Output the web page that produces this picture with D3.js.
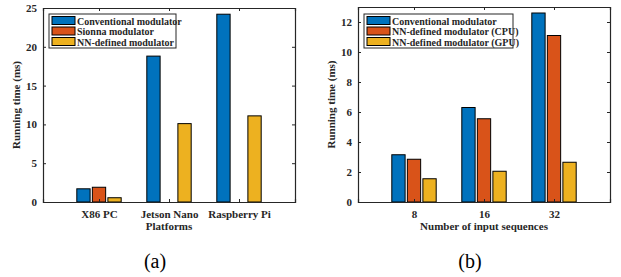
<!DOCTYPE html>
<html lang="en">
  <head>
    <meta charset="UTF-8" />
    <title>Running time</title>
    <script src="https://cdn.jsdelivr.net/npm/d3@7/dist/d3.min.js"></script>
    <style>
      body { margin: 0; background: #fff; }
      text { font-family: "Liberation Serif", "Times New Roman", serif; }
    </style>
  </head>
  <body></body>
  <script>
    // panel (a)
    const platforms = ["X86 PC", "Jetson Nano", "Raspberry Pi"];
    const seriesA = ["Conventional modulator", "Sionna modulator", "NN-defined modulator"];
    const conventionalA = [1.7, 18.8, 24.2];
    const sionnaA = [1.9, 0, 0];
    const nnA = [0.55, 10.1, 11.1];
    const yTicksA = [0, 5, 10, 15, 20, 25];

    // panel (b)
    const sequences = ["8", "16", "32"];
    const seriesB = ["Conventional modulator", "NN-defined modulator (CPU)", "NN-defined modulator (GPU)"];
    const conventionalB = [3.15, 6.3, 12.6];
    const nnCpuB = [2.85, 5.55, 11.1];
    const nnGpuB = [1.55, 2.05, 2.65];
    const yTicksB = [0, 2, 4, 6, 8, 10, 12];

    const colors = ["#0072BD", "#D95319", "#EDB120"];
    const axisColor = "#262626";

    const svg = d3
      .select("body")
      .append("svg")
      .attr("width", 621)
      .attr("height", 277);

    function panel(opt) {
      const g = svg.append("g");
      const x = d3.scaleLinear().domain([0.2, 3.8]).range([opt.left, opt.right]);
      const y = d3.scaleLinear().domain([0, opt.ymax]).range([opt.bottom, opt.top]);
      const offset = 0.222;
      const bw = 0.19;

      // bars
      opt.values.forEach((vals, s) => {
        g.selectAll(null)
          .data(vals)
          .enter()
          .append("rect")
          .attr("x", (d, i) => x(i + 1 + (s - 1) * offset - bw / 2))
          .attr("y", (d) => y(d))
          .attr("width", x(bw) - x(0))
          .attr("height", (d) => y(0) - y(d))
          .attr("fill", colors[s])
          .attr("stroke", d => d > 0 ? "#000" : "none")
          .attr("stroke-width", 1);
      });

      // axes with inward ticks
      const cats = opt.cats.map((c, i) => i + 1);
      const bottom = g.append("g")
        .attr("transform", `translate(0,${opt.bottom})`)
        .call(d3.axisBottom(x).tickValues(cats).tickFormat((d) => opt.cats[d - 1]).tickSize(-3).tickPadding(8));
      const top = g.append("g")
        .attr("transform", `translate(0,${opt.top})`)
        .call(d3.axisTop(x).tickValues(cats).tickFormat("").tickSize(-3));
      const left = g.append("g")
        .attr("transform", `translate(${opt.left},0)`)
        .call(d3.axisLeft(y).tickValues(opt.yticks).tickSize(-3).tickPadding(6));
      const right = g.append("g")
        .attr("transform", `translate(${opt.right},0)`)
        .call(d3.axisRight(y).tickValues(opt.yticks).tickFormat("").tickSize(-3));
      [bottom, top, left, right].forEach((a) => {
        a.select(".domain").attr("stroke", axisColor).attr("stroke-width", 1.2);
        a.selectAll(".tick line").attr("stroke", axisColor);
        a.selectAll("text")
          .attr("fill", axisColor)
          .style("font-family", '"Liberation Serif", serif')
          .style("font-size", "11px")
          .style("font-weight", "bold");
      });

      // axis titles
      g.append("text")
        .attr("transform", `translate(${opt.left - 23},${(opt.top + opt.bottom) / 2}) rotate(-90)`)
        .attr("text-anchor", "middle")
        .attr("fill", axisColor)
        .style("font-size", "11px")
        .style("font-weight", "bold")
        .text("Running time (ms)");
      g.append("text")
        .attr("x", x(2))
        .attr("y", opt.bottom + 28)
        .attr("text-anchor", "middle")
        .attr("fill", axisColor)
        .style("font-size", "11px")
        .style("font-weight", "bold")
        .text(opt.xlabel);
      g.append("text")
        .attr("x", opt.capX)
        .attr("y", 268)
        .attr("text-anchor", "middle")
        .attr("fill", "#000")
        .style("font-size", "20px")
        .text(opt.caption);

      // legend
      const lg = g.append("g").attr("transform", `translate(${opt.left + 6},14)`);
      lg.append("rect")
        .attr("width", opt.legendW)
        .attr("height", 34)
        .attr("fill", "#fff")
        .attr("stroke", axisColor)
        .attr("stroke-width", 1);
      opt.series.forEach((name, s) => {
        lg.append("rect")
          .attr("x", 3)
          .attr("y", 2.5 + s * 10.5)
          .attr("width", 23)
          .attr("height", 8)
          .attr("fill", colors[s])
          .attr("stroke", "#000")
          .attr("stroke-width", 1);
        lg.append("text")
          .attr("x", 28)
          .attr("y", 10.5 + s * 10.5)
          .attr("fill", axisColor)
          .style("font-size", "10px")
          .style("font-weight", "bold")
          .text(name);
      });
    }

    panel({
      left: 43, right: 295, top: 8, bottom: 202, ymax: 25,
      values: [conventionalA, sionnaA, nnA],
      cats: platforms, yticks: yTicksA, series: seriesA,
      xlabel: "Platforms", caption: "(a)", capX: 155, legendW: 127
    });
    panel({
      left: 358, right: 610, top: 7, bottom: 202, ymax: 13,
      values: [conventionalB, nnCpuB, nnGpuB],
      cats: sequences, yticks: yTicksB, series: seriesB,
      xlabel: "Number of input sequences", caption: "(b)", capX: 470, legendW: 149
    });
  </script>
</html>
